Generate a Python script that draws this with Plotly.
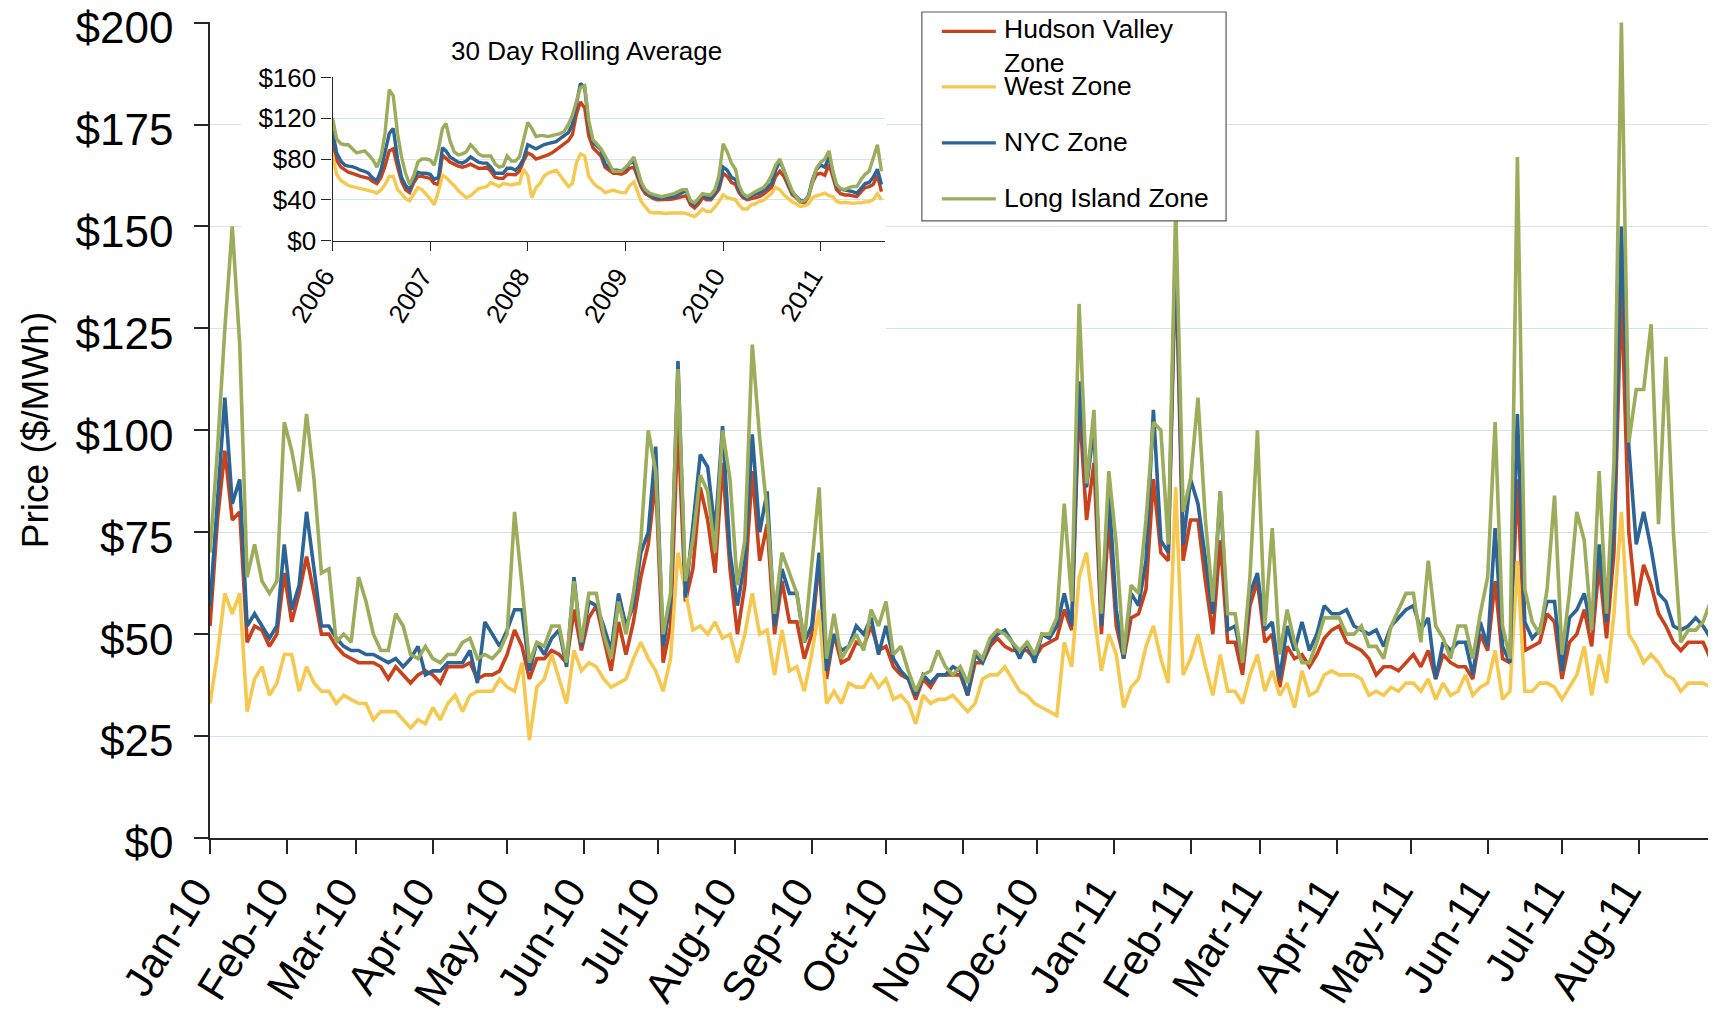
import plotly.graph_objects as go
import pandas as pd

# ---------------- geometry (page pixels; the page body adds an 8px offset) ----------------
OFF = 8
W, H = 1716 - OFF, 1018 - OFF
ML, MR, MT = 209.7 - OFF, 0, 22 - OFF
MB = H - (838.5 - OFF)
FONT = "Liberation Sans, Arial, sans-serif"


def fx(p):
    """page x pixel -> paper x"""
    return (p - OFF - ML) / (W - ML - MR)


def fy(p):
    """page y pixel -> paper y"""
    return (H - MB - (p - OFF)) / (H - MT - MB)


# ---------------- main chart data (daily prices, sampled every 3 days) ----------------
main_start = "2010-01-01"
day_offsets = list(range(0, 607, 3)) + [608]

hudson_valley = [
    52, 78, 95, 78, 80, 48, 52, 51, 47, 50,
    65, 53, 60, 69, 60, 50, 50, 47, 45, 44,
    43, 43, 43, 42, 39, 42, 40, 38, 40, 41,
    40, 38, 42, 42, 42, 43, 39, 40, 40, 41,
    45, 51, 47, 39, 44, 44, 46, 45, 43, 56,
    46, 54, 57, 49, 41, 53, 45, 53, 64, 72,
    88, 43, 52, 102, 58, 66, 86, 78, 65, 92,
    66, 50, 62, 90, 68, 77, 50, 63, 53, 53,
    44, 50, 68, 39, 50, 43, 44, 48, 47, 52,
    46, 47, 42, 40, 39, 34, 39, 37, 40, 40,
    40, 40, 35, 43, 43, 47, 49, 47, 46, 46,
    46, 44, 47, 48, 49, 56, 51, 107, 78, 92,
    50, 78, 52, 44, 54, 55, 61, 88, 70, 68,
    143, 68, 78, 78, 63, 50, 73, 48, 48, 40,
    57, 63, 48, 50, 37, 47, 44, 45, 42, 45,
    49, 51, 52, 48, 47, 46, 44, 40, 42, 42,
    41, 43, 45, 42, 46, 39, 45, 43, 42, 42,
    39, 50, 46, 63, 44, 43, 88, 46, 47, 48,
    55, 53, 39, 48, 50, 56, 47, 67, 49, 70,
    135, 75, 57, 67, 62, 55, 52, 48, 46, 48,
    48, 48, 44, 39,
]
west = [
    33, 45, 60, 55, 60, 31, 39, 42, 35, 38,
    45, 45, 36, 42, 38, 36, 36, 33, 35, 34,
    33, 33, 29, 31, 31, 31, 29, 27, 29, 28,
    32, 29, 33, 35, 31, 35, 36, 36, 36, 39,
    37, 36, 43, 24, 37, 39, 45, 39, 33, 46,
    41, 43, 42, 39, 37, 38, 39, 44, 48, 44,
    41, 36, 44, 70, 60, 51, 52, 50, 53, 49,
    50, 43, 50, 60, 50, 51, 40, 51, 41, 42,
    36, 45, 56, 33, 36, 33, 38, 37, 37, 40,
    37, 39, 34, 35, 33, 28, 35, 33, 34, 34,
    35, 33, 31, 33, 39, 40, 40, 42, 39, 36,
    35, 33, 32, 31, 30, 48, 42, 64, 70, 55,
    41, 50, 45, 32, 37, 39, 47, 52, 44, 38,
    86, 40, 44, 50, 42, 35, 45, 36, 36, 33,
    40, 45, 36, 41, 35, 38, 32, 41, 35, 36,
    40, 41, 40, 40, 40, 39, 35, 36, 35, 37,
    36, 38, 38, 36, 39, 34, 38, 35, 36, 40,
    35, 37, 38, 46, 34, 36, 68, 36, 36, 38,
    38, 37, 34, 37, 40, 47, 35, 45, 38, 55,
    80, 50, 47, 43, 45, 43, 40, 39, 36, 38,
    38, 38, 37, 32,
]
nyc = [
    57, 82, 108, 82, 88, 52, 55, 52, 49, 52,
    72, 56, 62, 80, 66, 52, 52, 49, 47, 46,
    46, 45, 45, 44, 43, 44, 42, 44, 47, 40,
    41, 41, 43, 43, 43, 46, 38, 53, 50, 47,
    51, 56, 56, 41, 48, 45, 49, 51, 42, 64,
    47, 58, 57, 52, 46, 60, 52, 57, 70, 75,
    96, 47, 58, 117, 59, 77, 94, 91, 75, 101,
    70, 57, 68, 99, 75, 85, 52, 66, 60, 60,
    48, 52, 70, 41, 50, 46, 47, 52, 50, 54,
    45, 52, 44, 41, 39, 35, 40, 38, 40, 40,
    42, 41, 35, 45, 43, 48, 50, 51, 48, 44,
    48, 43, 50, 49, 52, 60, 52, 112, 86, 101,
    52, 85, 56, 44, 60, 57, 68, 105, 73, 70,
    147, 72, 88, 82, 68, 55, 85, 51, 52, 43,
    60, 65, 51, 53, 39, 52, 46, 53, 46, 50,
    57, 55, 55, 56, 52, 51, 50, 51, 47, 52,
    54, 56, 57, 51, 54, 39, 48, 46, 48, 48,
    40, 53, 47, 76, 47, 43, 104, 53, 49, 51,
    58, 58, 41, 54, 56, 60, 51, 72, 53, 76,
    150, 96, 72, 80, 71, 60, 58, 52, 51, 52,
    54, 52, 49, 44,
]
long_island = [
    70, 95, 125, 150, 121, 64, 72, 63, 60, 63,
    102, 95, 85, 104, 88, 65, 66, 48, 50, 48,
    64, 58, 50, 46, 46, 55, 52, 45, 44, 47,
    44, 43, 45, 45, 48, 49, 44, 45, 44, 46,
    50, 80, 62, 43, 48, 47, 52, 52, 43, 63,
    48, 60, 60, 50, 44, 58, 50, 60, 73, 100,
    90, 50, 60, 115, 63, 73, 89, 85, 70, 100,
    88, 62, 73, 121, 98, 80, 55, 70, 65, 60,
    48, 68, 86, 44, 55, 44, 47, 50, 46, 56,
    52, 58, 45, 47, 41, 36, 40, 41, 46, 42,
    40, 42, 38, 46, 44, 49, 51, 50, 48, 46,
    48, 45, 50, 50, 54, 82, 58, 131, 87, 105,
    55, 90, 72, 45, 62, 60, 78, 102, 100, 72,
    155, 80, 88, 108, 78, 58, 85, 55, 55, 43,
    64, 100, 52, 76, 45, 56, 48, 43, 43, 48,
    54, 54, 54, 50, 50, 52, 47, 47, 44, 52,
    56, 60, 60, 48, 68, 52, 49, 44, 52, 52,
    44, 55, 64, 102, 52, 44, 167, 61, 53, 50,
    61, 84, 45, 60, 80, 73, 51, 90, 55, 92,
    200, 97, 110, 110, 126, 77, 118, 75, 48, 51,
    51, 53, 58, 46,
]

# ---------------- inset data (30 day rolling average, semi-monthly) ----------------
inset_start_year = 2006
inset_hudson_valley = [
    98.6, 79, 72, 69, 67, 66, 64, 63, 62, 61,
    58, 56, 62, 73, 88, 90, 72, 58, 50, 47,
    57, 63, 63, 62, 61, 56, 55, 84, 81, 77,
    75, 73, 72, 73, 75, 73, 71, 71, 72, 68,
    62, 61, 61, 65, 65, 64.5, 68, 78, 86, 84,
    80, 81, 82.5, 84, 86, 89, 92, 95, 98, 104,
    124, 136, 130, 103, 91, 87, 83, 72, 69, 66,
    66, 65, 67, 71, 72, 61, 52, 46, 43, 41,
    40, 40, 40, 40.5, 41, 42, 43.5, 44, 35, 32,
    36, 42, 40, 40, 45, 50, 66, 63, 57, 55,
    47, 42, 40, 41, 42, 43, 45.5, 49, 52, 63,
    68, 63, 54, 45, 42, 38, 37, 43, 57, 65,
    66, 64, 75, 61, 50, 46, 44.7, 44.7, 44, 43,
    48, 52, 53, 55, 64, 48,
]
inset_west = [
    84, 65, 59, 56, 54, 53, 52, 51, 50.5, 49.6,
    48, 46.5, 49.5, 55, 63, 63, 50, 46, 41, 39,
    45, 52, 50, 46, 41, 35, 48, 64, 62, 58,
    54, 49, 45, 42, 44, 48, 51, 52, 53, 57,
    55, 53, 56, 55, 54.5, 55.5, 56, 70, 64, 42,
    52, 56, 63, 66, 68, 69, 64, 58, 53, 56,
    76, 85, 83, 63, 57, 53, 51, 47, 48, 49.5,
    48, 47, 47, 54, 57.5, 47, 38, 33, 28, 27,
    27.5, 27, 26.5, 27, 27.2, 26.8, 27, 26.5, 25.3, 23.5,
    26.8, 31, 28.4, 28.4, 33, 38, 45, 42, 41, 40,
    35, 31, 31, 35, 36, 38.2, 39.5, 43, 46.4, 52,
    50, 45, 41.5, 38, 36, 33.5, 34, 36, 42, 44,
    45, 46.5, 44, 43, 38.5, 37, 37.5, 37, 36.5, 37,
    37, 38, 38, 40, 46, 40,
]
inset_nyc = [
    108, 86, 78, 74, 73, 72.5, 71, 69, 68, 66,
    61, 59, 69, 85, 105, 110, 80, 62, 54, 50,
    60, 67, 66, 66, 65, 60, 62, 91, 88, 82,
    79, 77, 76, 78, 82, 79, 77, 76, 76, 72,
    66, 66, 66, 71, 71, 69, 73, 80, 94, 92,
    90, 92, 94, 95, 96, 97, 100, 103, 106, 114,
    135, 154, 150, 114, 96, 92, 89, 75, 72, 69,
    69, 68, 70, 76, 77, 66, 55, 48, 44.7, 42.5,
    41.5, 41.5, 42.5, 43, 43, 45, 47, 49, 38, 35,
    40, 45, 42, 41.5, 47, 53, 72, 69, 62, 60,
    50, 44, 41.5, 44, 45.5, 46.5, 49, 53, 56, 69,
    78, 69, 56, 47, 43, 39.5, 39, 44, 60, 70,
    74, 72, 82, 65, 53, 50.5, 49.6, 49.6, 48, 46.4,
    52, 56, 57, 62, 70, 55,
]
inset_long_island = [
    120, 100, 95, 94, 94, 90, 86, 87, 88, 84,
    79, 72, 82, 105, 148, 142, 105, 82, 66, 55,
    64, 77, 80, 80, 79, 74, 90, 110, 115, 98,
    87, 84, 85, 87, 94, 90, 85, 83, 83, 83,
    75, 72, 73, 83, 78, 78, 82, 97, 116, 110,
    102, 103, 103, 102, 103, 104, 105, 107, 114, 123,
    136, 150, 152, 118, 99, 94, 90, 83, 75, 68,
    68, 68, 72, 76, 82, 68, 57, 50, 46.5, 45,
    44, 43, 44, 45, 46, 48, 50, 50, 39, 37,
    42, 46, 45, 45, 50, 63, 95, 87, 76, 70,
    54, 46, 43, 46, 48, 50, 52, 57, 64, 74,
    80, 69, 58, 49, 43, 38, 39, 43, 58, 71,
    77, 80, 88, 67, 55, 51, 50, 52, 53, 53,
    60, 65, 68, 82, 94, 68,
]

series_names = ["Hudson Valley Zone", "West Zone", "NYC Zone", "Long Island Zone"]
series_colors = ["#C9421B", "#F5C84F", "#2D6496", "#9BAD5A"]
main_values = [hudson_valley, west, nyc, long_island]
inset_values = [inset_hudson_valley, inset_west, inset_nyc, inset_long_island]

price_ticks = [0, 25, 50, 75, 100, 125, 150, 175, 200]
inset_price_ticks = [0, 40, 80, 120, 160]
main_month_ticks = pd.date_range("2010-01-01", "2011-08-01", freq="MS")
inset_year_ticks = pd.date_range("2006-01-01", "2011-01-01", freq="YS")

# ---------------- build dates ----------------
main_dates = pd.Timestamp(main_start) + pd.to_timedelta(day_offsets, unit="D")
inset_dates = []
for k in range(len(inset_nyc)):
    m = k // 2
    inset_dates.append(pd.Timestamp(year=inset_start_year + m // 12, month=m % 12 + 1,
                                    day=1 if k % 2 == 0 else 16))

fig = go.Figure()

for name, color, vals in zip(series_names, series_colors, main_values):
    fig.add_trace(go.Scatter(x=main_dates, y=vals, mode="lines", name=name,
                             line=dict(color=color, width=3.6), xaxis="x", yaxis="y",
                             showlegend=False))

# white backing panel for the inset (empty subplot; its background hides the main chart)
fig.add_trace(go.Scatter(x=[], y=[], xaxis="x2", yaxis="y2", showlegend=False,
                         hoverinfo="skip"))

for name, color, vals in zip(series_names, series_colors, inset_values):
    fig.add_trace(go.Scatter(x=inset_dates, y=vals, mode="lines", name=name + " (30 day avg)",
                             line=dict(color=color, width=3.4), xaxis="x3", yaxis="y3",
                             showlegend=False))

AX = "#262626"
GRID = "#D6E3E8"

fig.update_layout(
    width=W, height=H,
    margin=dict(l=ML, r=MR, t=MT, b=MB, autoexpand=False),
    paper_bgcolor="white", plot_bgcolor="white",
    font=dict(family=FONT, color="black"),
    showlegend=False,
    xaxis=dict(
        type="date", range=["2010-01-01", "2011-09-01 05:00"], domain=[0, 1], anchor="y",
        tickvals=list(main_month_ticks), ticktext=[d.strftime("%b-%y") for d in main_month_ticks],
        tickangle=-58, tickfont=dict(size=42, family=FONT),
        ticks="outside", ticklen=14, tickwidth=1.5, tickcolor=AX,
        ticklabelshift=-14, ticklabelstandoff=-4, ticklabeloverflow="allow",
        showline=True, linecolor=AX, linewidth=1.5, showgrid=False, zeroline=False,
        automargin=False,
    ),
    yaxis=dict(
        range=[0, 200.15], domain=[0, 1], anchor="x",
        tickvals=price_ticks, ticktext=["$%d" % v for v in price_ticks],
        tickfont=dict(size=44, family=FONT),
        ticks="outside", ticklen=14, tickwidth=1.5, tickcolor=AX, ticklabelstandoff=12,
        ticklabelshift=5, ticklabeloverflow="allow",
        showline=True, linecolor=AX, linewidth=1.5,
        showgrid=True, gridcolor=GRID, gridwidth=1.3, zeroline=False,
        title=dict(text="Price ($/MWh)", font=dict(size=37, family=FONT), standoff=16),
        automargin=False,
    ),
    xaxis2=dict(domain=[fx(241), fx(886)], anchor="y2", visible=False, fixedrange=True),
    yaxis2=dict(domain=[fy(334), 1.0], anchor="x2", visible=False, fixedrange=True),
    xaxis3=dict(
        type="date", range=["2006-01-01", "2011-08-28"], domain=[fx(332.3), fx(884.5)],
        anchor="y3", tickvals=list(inset_year_ticks), tickformat="%Y",
        tickangle=-58, tickfont=dict(size=26, family=FONT),
        ticks="outside", ticklen=9, tickwidth=1.3, tickcolor=AX,
        ticklabelshift=-8, ticklabeloverflow="allow",
        showline=True, linecolor=AX, linewidth=1.3, showgrid=False, zeroline=False,
        automargin=False,
    ),
    yaxis3=dict(
        range=[0, 160.2], domain=[fy(240.7), fy(77.3)], anchor="x3",
        tickvals=inset_price_ticks, ticktext=["$%d" % v for v in inset_price_ticks],
        tickfont=dict(size=26, family=FONT), ticklabeloverflow="allow",
        ticks="outside", ticklen=10, tickwidth=1.3, tickcolor=AX,
        showline=True, linecolor=AX, linewidth=1.3,
        showgrid=True, gridcolor=GRID, gridwidth=1.2, zeroline=False,
        automargin=False,
    ),
)

# inset title
fig.add_annotation(x=fx(586.5), y=fy(51.5), xref="paper", yref="paper",
                   text="30 Day Rolling Average", showarrow=False,
                   font=dict(size=26, family=FONT, color="black"),
                   xanchor="center", yanchor="middle")

# ---------------- legend (drawn box) ----------------
fig.add_shape(type="rect", xref="paper", yref="paper", layer="above",
              x0=fx(921.7), x1=fx(1226), y0=fy(221), y1=fy(12),
              fillcolor="white", line=dict(color="#5A5A5A", width=1.2))
legend_rows = [31.3, 87, 143, 199]
legend_text_y = [46.5, 86, 142.5, 198]
legend_labels = ["Hudson Valley<br>Zone", "West Zone", "NYC Zone", "Long Island Zone"]
for ly, ty, lab, col in zip(legend_rows, legend_text_y, legend_labels, series_colors):
    fig.add_shape(type="line", xref="paper", yref="paper", layer="above",
                  x0=fx(941.7), x1=fx(995.7), y0=fy(ly), y1=fy(ly),
                  line=dict(color=col, width=3.2))
    fig.add_annotation(x=fx(1002), y=fy(ty), xref="paper", yref="paper", text=lab,
                       showarrow=False, xanchor="left", yanchor="middle", align="left",
                       font=dict(size=26.5, family=FONT, color="black"))

fig.write_html("out.html")
